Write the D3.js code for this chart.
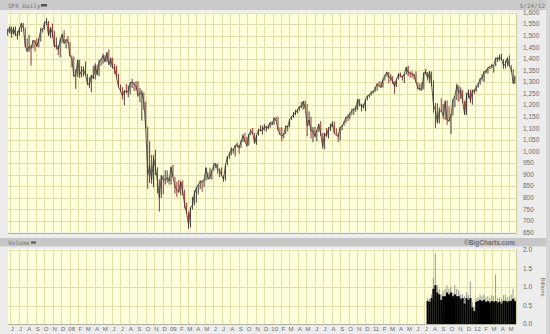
<!DOCTYPE html>
<html><head><meta charset="utf-8">
<script src="https://cdn.jsdelivr.net/npm/d3@7/dist/d3.min.js"></script>
<style>body{margin:0;background:#ececec;}svg{display:block;}</style>
</head><body>
<svg id="c" width="550" height="334"></svg>
<script>
// Weekly S&P 500 (SPX) values, week ending Fridays from 2007-05-25 to 2012-05-24
const closes = [
1515,1536,1507,1533,1502,1503,1530,1552,1534,1458,1433,1453,1445,1479,1474,1453,1484,1525,1527,1557,1561,1500,1535,1509,1453,1458,1440,1481,1504,1467,1484,1478,
1411,1401,1325,1330,1395,1331,1349,1353,1331,1294,1288,1330,1316,1370,1332,1390,1398,1414,1389,1426,1375,1400,1361,1360,1318,1278,1262,1240,1261,1257,1260,1296,1298,1292,1283,1242,1252,1255,1213,1099,899,940,877,969,930,873,800,896,876,879,887,872,
932,890,850,832,826,869,827,770,735,683,756,768,816,843,857,870,866,877,930,883,887,919,940,946,921,918,896,880,941,979,987,1010,1005,1026,1029,1016,1042,1068,1044,1025,1071,1087,1080,1036,1069,1093,1091,1091,1106,1106,1102,1127,1115,
1145,1136,1092,1074,1066,1075,1109,1105,1139,1150,1160,1167,1179,1194,1192,1217,1187,1111,1136,1088,1089,1065,1092,1117,1076,1022,1078,1065,1102,1102,1122,1079,1071,1065,1105,1110,1126,1149,1147,1166,1176,1183,1183,1226,1200,1200,1190,1225,1240,1244,1257,1258,
1272,1293,1283,1276,1311,1329,1343,1320,1321,1304,1279,1313,1332,1328,1320,1337,1364,1340,1338,1333,1331,1300,1271,1271,1268,1340,1344,1316,1345,1292,1199,1179,1124,1177,1174,1154,1216,1136,1131,1155,1224,1238,1285,1253,1263,1216,1159,1244,1255,1219,1265,1258,
1278,1289,1315,1316,1345,1343,1361,1366,1370,1371,1404,1397,1408,1398,1370,1378,1403,1369,1353,1295,1320];
const highs = [
1530,1540,1540,1538,1540,1520,1535,1556,1555,1535,1488,1503,1460,1480,1481,1488,1489,1535,1533,1561,1576,1563,1537,1552,1520,1492,1460,1488,1508,1523,1484,1498,
1472,1415,1410,1354,1397,1396,1368,1367,1388,1335,1321,1331,1370,1380,1375,1395,1399,1422,1416,1429,1440,1406,1405,1377,1370,1335,1289,1278,1265,1291,1285,1300,1314,1300,1303,1303,1274,1265,1255,1215,1106,1044,985,984,1007,932,880,896,897,918,918,891,
934,943,890,869,877,871,875,835,779,739,758,804,832,845,857,876,875,881,930,909,930,920,951,950,946,927,931,896,943,980,996,1018,1013,1029,1039,1028,1048,1074,1080,1063,1075,1097,1101,1081,1072,1097,1113,1112,1119,1110,1117,1127,1130,
1146,1150,1150,1104,1104,1080,1112,1112,1139,1151,1170,1180,1182,1194,1213,1217,1220,1205,1173,1150,1105,1106,1093,1120,1131,1080,1080,1100,1104,1120,1130,1129,1100,1081,1105,1113,1131,1149,1160,1167,1184,1186,1196,1227,1227,1207,1206,1226,1241,1247,1259,1263,
1278,1293,1303,1302,1312,1330,1344,1343,1333,1325,1303,1315,1338,1340,1328,1337,1364,1370,1346,1346,1336,1346,1299,1293,1298,1341,1356,1343,1347,1345,1307,1209,1208,1190,1230,1205,1220,1220,1195,1161,1225,1240,1293,1285,1277,1266,1219,1254,1267,1267,1266,1270,
1285,1296,1315,1333,1346,1355,1363,1368,1378,1372,1405,1409,1419,1422,1398,1392,1406,1415,1373,1355,1328];
const lows = [
1500,1510,1490,1505,1500,1484,1500,1515,1530,1450,1430,1430,1370,1445,1432,1452,1450,1475,1513,1525,1546,1500,1490,1492,1450,1440,1416,1406,1469,1465,1445,1468,
1411,1364,1321,1270,1322,1317,1320,1325,1329,1286,1273,1256,1312,1311,1328,1325,1370,1379,1385,1386,1373,1364,1358,1335,1316,1277,1257,1225,1200,1250,1234,1247,1274,1261,1263,1236,1212,1133,1180,1099,839,865,860,845,898,818,741,799,815,857,865,857,
857,888,818,804,821,812,810,754,733,666,672,749,767,779,814,838,826,847,875,878,880,879,917,927,903,888,895,869,875,940,968,983,990,978,1016,991,1015,1040,1041,1020,1025,1070,1075,1033,1029,1069,1086,1073,1090,1085,1095,1102,1115,
1115,1131,1090,1071,1045,1056,1075,1086,1105,1136,1145,1156,1165,1176,1186,1181,1185,1066,1110,1056,1040,1060,1043,1084,1066,1011,1010,1063,1056,1088,1105,1076,1069,1040,1048,1091,1110,1122,1131,1139,1156,1159,1171,1179,1194,1173,1185,1174,1220,1232,1241,1250,
1258,1262,1278,1275,1276,1306,1323,1294,1303,1291,1249,1278,1311,1320,1306,1295,1332,1325,1318,1318,1311,1297,1268,1262,1262,1268,1331,1306,1295,1282,1168,1101,1121,1121,1170,1140,1136,1115,1130,1075,1155,1191,1221,1215,1226,1209,1158,1158,1231,1209,1202,1248,
1258,1275,1288,1305,1300,1336,1336,1355,1359,1340,1368,1386,1391,1395,1357,1358,1367,1367,1343,1292,1291];
// Volume (billions), weekly typical and weekly peak, from week ending 2011-07-15
const volAvg = [0.62,0.60,0.70,0.95,1.05,0.85,0.80,0.65,0.75,0.75,0.85,0.80,0.85,0.75,0.80,0.75,0.75,0.68,0.70,0.55,0.70,0.65,0.70,0.45,0.35,
0.60,0.62,0.65,0.62,0.65,0.60,0.62,0.58,0.62,0.60,0.62,0.58,0.60,0.55,0.62,0.63,0.60,0.62,0.63,0.68,0.62];
const volMax = [0.70,0.68,0.80,1.25,1.90,1.05,0.95,0.80,0.90,0.95,1.05,0.95,1.00,0.85,1.05,0.95,0.90,0.80,0.80,0.75,0.85,0.78,1.15,0.60,0.45,
0.70,0.72,0.80,0.75,0.80,0.72,0.75,0.70,0.78,0.75,1.33,0.70,0.72,0.68,0.78,0.80,0.72,0.75,0.80,0.95,0.72];
const priceTicks = [650,700,750,800,850,900,950,1000,1050,1100,1150,1200,1250,1300,1350,1400,1450,1500,1550,1600];
const volTicks = [0.0,0.5,1.0,1.5,2.0];
const monthNames = ["J","F","M","A","M","J","J","A","S","O","N","D"];

const svg = d3.select("#c");
const L = 8, R = 516, T = 12.5, B = 232.5, VT = 250, VB = 324;

const weeks = d3.timeFriday.range(new Date(2007,4,25), new Date(2012,4,26));
weeks[weeks.length-1] = new Date(2012,4,24);
const volWeeks = d3.timeFriday.range(new Date(2011,6,15), new Date(2012,4,26));
volWeeks[volWeeks.length-1] = new Date(2012,4,24);

const x = d3.scaleTime().domain([new Date(2007,4,24), new Date(2012,4,26)]).range([L, R]);
const y = d3.scaleLinear().domain([650,1600]).range([B, T]);
const yv = d3.scaleLinear().domain([0,2]).range([VB, VT]);

// frame pieces
svg.append("rect").attr("x",0).attr("y",0).attr("width",550).attr("height",334).attr("fill","#ececec");
svg.append("rect").attr("x",0).attr("y",0).attr("width",550).attr("height",10).attr("fill","#cacaca");
svg.append("rect").attr("x",0).attr("y",238).attr("width",550).attr("height",8.5).attr("fill","#c6c6c6");
svg.append("rect").attr("x",546).attr("y",0).attr("width",4).attr("height",334).attr("fill","#d4d4d4");

const hdr = {"font-family":"DejaVu Sans Mono, monospace","font-size":"6px","fill":"#777"};
function txt(g, s, attrs){ const t = g.append("text").text(s); Object.entries(Object.assign({},hdr,attrs)).forEach(([k,v])=>t.attr(k,v)); return t; }
txt(svg,"SPX Daily",{x:8,y:7.5});
svg.append("rect").attr("x",41).attr("y",4).attr("width",6).attr("height",2.5).attr("fill","#555");
txt(svg,"5/24/12",{x:545,y:7.5,"text-anchor":"end"});
txt(svg,"Volume",{x:8,y:244.5});
svg.append("rect").attr("x",31).attr("y",241.5).attr("width",5).attr("height",2).attr("fill","#555");
txt(svg,"\u00A9BigCharts.com",{x:515,y:244.5,"text-anchor":"end","font-family":"Liberation Sans, Arial, sans-serif","font-weight":"bold","font-size":"6.5px","fill":"#707070"});

// plot backgrounds
svg.append("rect").attr("x",L).attr("y",T).attr("width",R-L).attr("height",B-T).attr("fill","#ffffdc");
svg.append("rect").attr("x",L).attr("y",VT-1).attr("width",R-L).attr("height",VB-VT+1).attr("fill","#ffffdc");

const months = d3.timeMonth.range(new Date(2007,5,1), new Date(2012,5,1));
const grid = "#e2dfaa";
const gm = svg.append("g").attr("shape-rendering","crispEdges");
months.forEach(m=>{
  const xx = Math.round(x(m))+0.5;
  gm.append("line").attr("x1",xx).attr("x2",xx).attr("y1",T).attr("y2",B).attr("stroke",grid);
  gm.append("line").attr("x1",xx).attr("x2",xx).attr("y1",VT-1).attr("y2",VB).attr("stroke",grid);
});
priceTicks.forEach(v=>{
  const yy = Math.round(y(v))+0.5;
  gm.append("line").attr("x1",L).attr("x2",R).attr("y1",yy).attr("y2",yy).attr("stroke",grid);
});
volTicks.forEach(v=>{
  const yy = Math.round(yv(v))+0.5;
  gm.append("line").attr("x1",L).attr("x2",R).attr("y1",yy).attr("y2",yy).attr("stroke",grid);
});
// plot borders
gm.append("line").attr("x1",L).attr("x2",R).attr("y1",B+0.5).attr("y2",B+0.5).attr("stroke","#b0b0a0");
gm.append("line").attr("x1",L).attr("x2",R).attr("y1",VB+0.5).attr("y2",VB+0.5).attr("stroke","#b0b0a0");
gm.append("line").attr("x1",R+0.5).attr("x2",R+0.5).attr("y1",T).attr("y2",B).attr("stroke","#cfcca0");
gm.append("line").attr("x1",R+0.5).attr("x2",R+0.5).attr("y1",VT-1).attr("y2",VB).attr("stroke","#cfcca0");

// price bars
const pg = svg.append("g");
weeks.forEach((d,i)=>{
  const xx = x(d3.timeDay.offset(d,-2));
  const up = i===0 ? true : closes[i] >= closes[i-1];
  pg.append("line").attr("x1",xx).attr("x2",xx).attr("y1",y(highs[i])).attr("y2",y(lows[i]))
    .attr("stroke", up ? "#222" : "#8a1010").attr("stroke-width",1.0).attr("stroke-opacity",0.85);
});
pg.append("path").datum(closes).attr("fill","none").attr("stroke","#333").attr("stroke-width",0.8)
  .attr("d", d3.line().x((d,i)=>x(d3.timeDay.offset(weeks[i],-2))).y(d=>y(d)));

// volume
const vg = svg.append("g");
volWeeks.forEach((d,i)=>{
  const x0 = x(d3.timeDay.offset(d,-6)), x1 = x(d3.timeDay.offset(d,1));
  vg.append("line").attr("x1",(x0+x1)/2).attr("x2",(x0+x1)/2).attr("y1",yv(0)).attr("y2",yv(volMax[i]))
    .attr("stroke","#8a8a8a").attr("stroke-width",0.9);
  vg.append("rect").attr("x",x0).attr("width",x1-x0+0.2).attr("y",yv(volAvg[i])).attr("height",yv(0)-yv(volAvg[i])).attr("fill","#000");
});

// axis labels
const lab = {"font-family":"Liberation Sans, Arial, sans-serif","font-size":"6.5px","fill":"#6a6a6a"};
const fmt = d3.format(",");
priceTicks.forEach(v=>txt(svg, fmt(v), Object.assign({},lab,{x:523,y:y(v)+2.3})));
volTicks.forEach(v=>txt(svg, d3.format(".1f")(v), Object.assign({},lab,{x:523,y:yv(v)+2.3})));
txt(svg,"Billions",Object.assign({},lab,{"font-size":"6px","text-anchor":"middle",transform:`translate(540.5,${(VT+VB)/2}) rotate(90)`}));

months.forEach(m=>{
  const mo = m.getMonth();
  const s = mo===0 ? String(m.getFullYear()%100).padStart(2,"0") : monthNames[mo];
  txt(svg, s, Object.assign({},lab,{"font-size":"6px",x:x(m)+2,y:331,"text-anchor":"middle"}));
});
</script>
</body></html>
